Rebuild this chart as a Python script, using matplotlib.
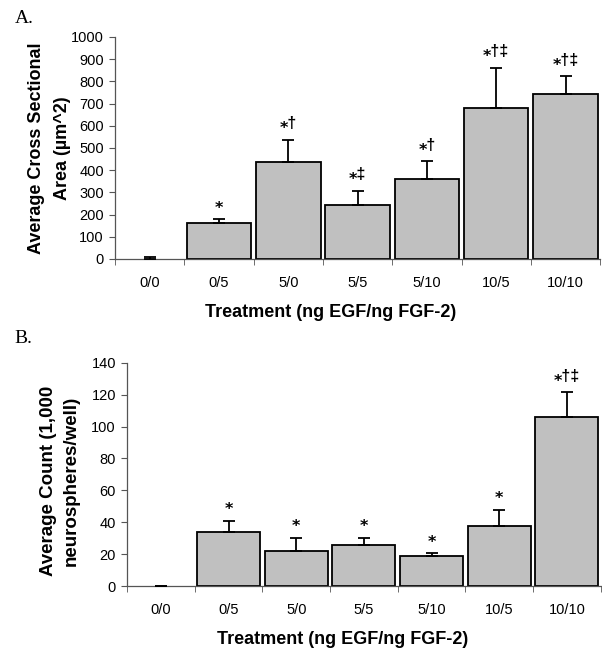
import matplotlib
matplotlib.use("Agg")
import matplotlib.pyplot as plt
import numpy as np

plt.rcParams['font.family'] = ['Liberation Sans', 'DejaVu Sans']

# treatment groups (ng EGF / ng FGF-2)
treatments = ["0/0", "0/5", "5/0", "5/5", "5/10", "10/5", "10/10"]

# panel A: average cross sectional area
area_mean = [0, 164, 436, 245, 359, 678, 744]
area_err = [10, 16, 101, 63, 83, 184, 79]
area_marks = ["", "⁎", "⁎†", "⁎‡", "⁎†", "⁎†‡", "⁎†‡"]

# panel B: average count
count_mean = [0, 34, 21.8, 25.8, 18.9, 37.4, 106]
count_err = [0, 6.9, 8.6, 4.6, 1.9, 10.6, 15.7]
count_marks = ["", "⁎", "⁎", "⁎", "⁎", "⁎", "⁎†‡"]

fig = plt.figure(figsize=(6.02, 6.49), dpi=100)
ax_a = fig.add_axes([0.191, 0.601, 0.806, 0.342])
ax_b = fig.add_axes([0.211, 0.097, 0.787, 0.344])

AXIS_GREY = "#555555"


def draw_panel(ax, means, errs, marks, ymax, ystep, xlabel_x):
    x = np.arange(len(treatments))
    lw = [0 if m == 0 else 1.3 for m in means]
    ax.bar(x, means, width=0.93, color="#c0c0c0", edgecolor="black", linewidth=lw, zorder=2)
    ax.errorbar(x, means, yerr=[np.zeros(len(errs)), errs], fmt="none", ecolor="black",
                elinewidth=1.3, capsize=4, capthick=1.3, zorder=3)
    for xi, m, e, s in zip(x, means, errs, marks):
        if s:
            ax.annotate(s, (xi, m + e), xytext=(0, 6), textcoords="offset points",
                        ha="center", va="bottom", fontsize=11.5, fontweight="bold")
    ax.set_xlim(-0.5, len(treatments) - 0.5)
    ax.set_ylim(0, ymax)
    ax.set_yticks(np.arange(0, ymax + 1, ystep))
    ax.tick_params(axis="y", labelsize=10.5, length=4, color=AXIS_GREY, pad=4)
    ax.set_xticks(x)
    ax.set_xticklabels(treatments, fontsize=10.5)
    ax.tick_params(axis="x", length=0, pad=12)
    ax.set_xticks(np.arange(-0.5, len(treatments)), minor=True)
    ax.tick_params(axis="x", which="minor", length=4, color=AXIS_GREY)
    for side in ["top", "right"]:
        ax.spines[side].set_visible(False)
    for side in ["left", "bottom"]:
        ax.spines[side].set_color(AXIS_GREY)
        ax.spines[side].set_linewidth(0.9)
    ax.set_xlabel("Treatment (ng EGF/ng FGF-2)", fontsize=13, fontweight="bold")
    ax.xaxis.set_label_coords(xlabel_x, -0.24)
    ax.xaxis.label.set_va("center")


draw_panel(ax_a, area_mean, area_err, area_marks, 1000, 100, 0.445)
draw_panel(ax_b, count_mean, count_err, count_marks, 140, 20, 0.455)

fig.text(49.5 / 602, 1 - 148 / 649, "Average Cross Sectional\nArea (µm^2)", rotation=90,
         ha="center", va="center", multialignment="center", fontsize=13,
         fontweight="bold", linespacing=1.65)
fig.text(59.5 / 602, 1 - 481 / 649, "Average Count (1,000\nneurospheres/well)", rotation=90,
         ha="center", va="center", multialignment="center", fontsize=13.5,
         fontweight="bold", linespacing=1.45)

fig.text(0.024, 0.985, "A.", family="Liberation Serif", fontsize=14, va="top")
fig.text(0.024, 0.492, "B.", family="Liberation Serif", fontsize=14, va="top")

fig.savefig("out.png", dpi=100)
